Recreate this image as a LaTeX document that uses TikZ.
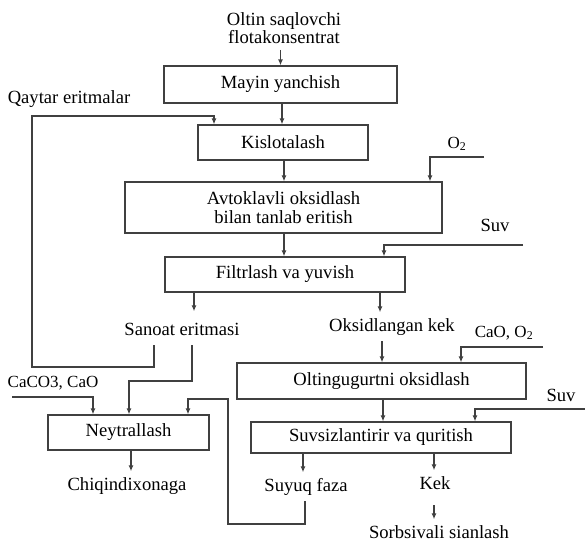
\documentclass[tikz,border=0pt]{standalone}
\usepackage{fontspec}
\setmainfont{Liberation Serif}
\usetikzlibrary{arrows.meta,calc}
\begin{document}
\begin{tikzpicture}[x=1pt,y=-1pt,
  every node/.style={font=\fontsize{18.6}{19}\selectfont},
  box/.style={draw=black!75, line width=1.2pt, inner sep=0pt},
  lbl/.style={inner xsep=0pt, inner ysep=6pt, text height=12.5pt, text depth=4pt, anchor=base},
  chem/.style={lbl, font=\fontsize{17}{18}\selectfont},
  arr/.style={draw=black!75, line width=1.2pt, -{Latex[length=6pt,width=5pt]}}]
\useasboundingbox (0,0) rectangle (585,542);

% boxes
\node[box, minimum width=233pt, minimum height=37pt] (mayin) at (280.5,84.5) {Mayin yanchish};
\node[box, minimum width=170pt, minimum height=35pt] (kislo) at (283,142.5) {Kislotalash};
\node[box, minimum width=317pt, minimum height=51pt, align=center] (avto) at (283.5,207.5) {Avtoklavli oksidlash\\bilan tanlab eritish};
\node[box, minimum width=240pt, minimum height=35pt] (filtr) at (285,274.5) {Filtrlash va yuvish};
\node[box, minimum width=161pt, minimum height=35pt] (neyt) at (128.5,432.5) {Neytrallash};
\node[box, minimum width=289pt, minimum height=36pt] (olting) at (381.5,381) {Oltingugurtni oksidlash};
\node[box, minimum width=260pt, minimum height=31pt] (suvs) at (381,437.5) {Suvsizlantirir va quritish};

% labels
\node[inner sep=0pt, anchor=north, align=center, font=\fontsize{18.6}{18}\selectfont] (top) at (284,12.5) {Oltin saqlovchi\\flotakonsentrat};
\node[lbl] (qaytar) at (69,103) {Qaytar eritmalar};
\node[lbl] (sanoat) at (182,335) {Sanoat eritmasi};
\node[lbl] (oksid) at (392,331) {Oksidlangan kek};
\node[lbl] (chiq) at (127,490) {Chiqindixonaga};
\node[lbl] (suyuq) at (306,491) {Suyuq faza};
\node[lbl] (kek) at (435,489) {Kek};
\node[lbl] (sorb) at (439,538) {Sorbsivali sianlash};
\node[chem] (o2) at (457,148) {O\textsubscript{2}};
\node[lbl] (suv1) at (495,231) {Suv};
\node[chem] (caoo2) at (504,337) {CaO, O\textsubscript{2}};
\node[chem] (caco3) at (53,387) {CaCO3, CaO};
\node[lbl] (suv2) at (561,401) {Suv};

% free ends
\coordinate (o2in) at (484,157);
\coordinate (suv1in) at (523,245);
\coordinate (cacoin) at (12,397);
\coordinate (caoin) at (543,347);
\coordinate (suv2in) at (585,409);

% connectors
\draw[arr] ([yshift=-6pt]top.south -| mayin.north) -- (mayin.north);
\draw[arr] (mayin.south -| 282,0) -- (kislo.north -| 282,0);
\draw[arr] (sanoat.south -| 154,0) |- (32,367) |- (214,116) -- (kislo.north -| 214,0);
\draw[arr] (kislo.south -| 284,0) -- (avto.north -| 284,0);
\draw[arr] (o2in) -| (avto.north -| 430,0);
\draw[arr] (avto.south -| 284,0) -- (filtr.north -| 284,0);
\draw[arr] (suv1in) -| (filtr.north -| 384,0);
\draw[arr, shorten >=5pt] (filtr.south -| 194,0) -- (sanoat.north -| 194,0);
\draw[arr] (filtr.south -| 380,0) -- (oksid.north -| 380,0);
\draw[arr] (sanoat.south -| 192,0) |- (129,381) -- (neyt.north -| 129,0);
\draw[arr] (cacoin) -| (neyt.north -| 93,0);
\draw[arr] (suyuq.south -| 305,0) |- (228,524) |- (188,399) -- (neyt.north -| 188,0);
\draw[arr] (neyt.south -| 131,0) -- (chiq.north -| 131,0);
\draw[arr] (oksid.south -| 382,0) -- (olting.north -| 382,0);
\draw[arr] (caoin) -| (olting.north -| 461,0);
\draw[arr] (olting.south -| 383,0) -- (suvs.north -| 383,0);
\draw[arr] (suv2in) -| (suvs.north -| 475,0);
\draw[arr] (suvs.south -| 303,0) -- (suyuq.north -| 303,0);
\draw[arr] (suvs.south -| 434,0) -- (kek.north -| 434,0);
\draw[arr, shorten <=6pt] (kek.south -| 434,0) -- (sorb.north -| 434,0);
\end{tikzpicture}
\end{document}
